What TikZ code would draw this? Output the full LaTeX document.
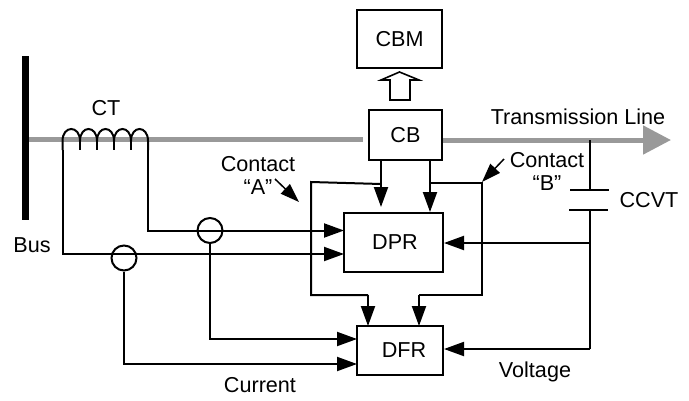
\documentclass[tikz,border=0pt]{standalone}
\usepackage{fontspec}
\setmainfont{Liberation Sans}
\usetikzlibrary{arrows.meta,calc}
\tikzset{
  wire/.style={line width=2pt,black},
  feed/.style={wire,-{Triangle[length=20pt,width=14pt]},shorten >=0pt},
  tag/.style={font=\fontsize{21.6}{24}\selectfont,inner sep=0pt,align=center},
  boxn/.style={draw,line width=2pt,inner sep=0pt,font=\fontsize{21.6}{24}\selectfont,fill=white},
  sensor/.style={draw,circle,line width=2pt,minimum size=25pt,inner sep=0pt},
  gline/.style={line width=5pt,color=black!40},
}
\begin{document}
\begin{tikzpicture}[x=1pt,y=-1pt]
\useasboundingbox[fill=white] (0,0) rectangle (689,400);
% boxes
\node[boxn,minimum width=85pt,minimum height=58pt] (cbm) at (399.5,39) {CBM};
\node[boxn,minimum width=73pt,minimum height=50pt] (cb) at (405.5,135) {CB};
\node[boxn,minimum width=99pt,minimum height=59pt] (dpr) at (393.5,242.5) {\hspace*{3pt}DPR};
\node[boxn,minimum width=86pt,minimum height=49pt] (dfr) at (400,350.5) {\hspace*{8pt}DFR};
% bus and line
\coordinate (bust) at (25.5,56);
\coordinate (busb) at (25.5,220);
\draw[line width=7pt,black] (bust) -- (busb);
\coordinate (linel) at (29,139.5);
\coordinate (gapl) at (363,139.5);
\coordinate (tip) at (671,140);
\draw[gline] (linel) -- (gapl);
\draw[gline,-{Triangle[length=28pt,width=28pt]},shorten >=0pt] (cb.east |- tip) -- (tip);
% hollow arrow
\draw[line width=1.6pt,line join=miter] (390,100) -- (390,80) -- (381,80) -- (399.5,72) -- (419,80) -- (410,80) -- (410,100) -- cycle;
% coil
\coordinate (cl) at (62.5,150);
\coordinate (cr) at (148,150);
\draw[wire] (cl) -- (62.5,141)
  .. controls (62.5,125) and (80,125) .. (80,141)
  .. controls (80,125) and (97,125) .. (97,141)
  .. controls (97,125) and (114,125) .. (114,141)
  .. controls (114,125) and (131,125) .. (131,141)
  .. controls (131,125) and (148,125) .. (148,141) -- (cr);
\draw[wire] (80,141) -- (80,150) (97,141) -- (97,150) (114,141) -- (114,150) (131,141) -- (131,150);
% sensors
\node[sensor] (s1) at (210,230.5) {};
\node[sensor] (s2) at (124,258) {};
% current wires
\coordinate (d1) at (344,230.5);
\coordinate (d2) at (344,254);
\draw[feed] (cr) |- (d1);
\draw[feed] (cl) |- (d2);
\coordinate (f1) at (357,339);
\coordinate (f2) at (357,364);
\draw[feed] (s1.south) |- (f1);
\draw[feed] (s2.south) |- (f2);
% contacts from CB to DPR
\coordinate (ca) at (381,207);
\coordinate (cc) at (430,212);
\draw[feed] (cb.south -| ca) -- (ca);
\draw[feed] (cb.south -| cc) -- (cc);
% contact A
\coordinate (afold) at (311,182);
\coordinate (bfold) at (482,183);
\coordinate (fa) at (368,326);
\coordinate (fb) at (419,326);
\draw[wire] (381,184) -- (afold) -- (311,295) -- (368,295);
\draw[feed] (368,295) -- (fa);
\draw[wire] (430,183) -- (bfold) -- (482,295) -- (419,295);
\draw[feed] (419,295) -- (fb);
% pointers
\coordinate (pa) at (275,179);
\coordinate (pat) at (299,202);
\coordinate (pb) at (504,159);
\coordinate (pbt) at (482,182);
\draw[line width=1.5pt,-{Triangle[length=19pt,width=13pt]}] (pa) -- (pat);
\draw[line width=1.5pt,-{Triangle[length=19pt,width=13pt]}] (pb) -- (pbt);
% CCVT
\coordinate (tap) at (590,140);
\coordinate (p1) at (590,190);
\coordinate (p2) at (590,210);
\coordinate (bend) at (590,349);
\coordinate (dv) at (590,243);
\draw[wire] (tap) -- (p1);
\draw[wire] (570,190) -- (609,190);
\draw[wire] (569,210) -- (608,210);
\draw[wire] (p2) -- (bend);
\draw[feed] (dv) -- (dv -| dpr.east);
\draw[feed] (bend) -- (bend -| dfr.east);
% labels
\node[tag] (tct) at (106,108) {CT};
\node[tag] (tbus) at (32,245) {Bus};
\node[tag] (tca) at (258,175) {Contact\\[-1pt]“A”};
\node[tag] (tcb) at (547,171) {Contact\\[-1pt]“B”};
\node[tag] (tccvt) at (649,200) {CCVT};
\node[tag] (ttl) at (578,117) {Transmission Line};
\node[tag] (tcur) at (260,385) {Current};
\node[tag] (tvol) at (535,372) {Voltage};
\end{tikzpicture}
\end{document}
